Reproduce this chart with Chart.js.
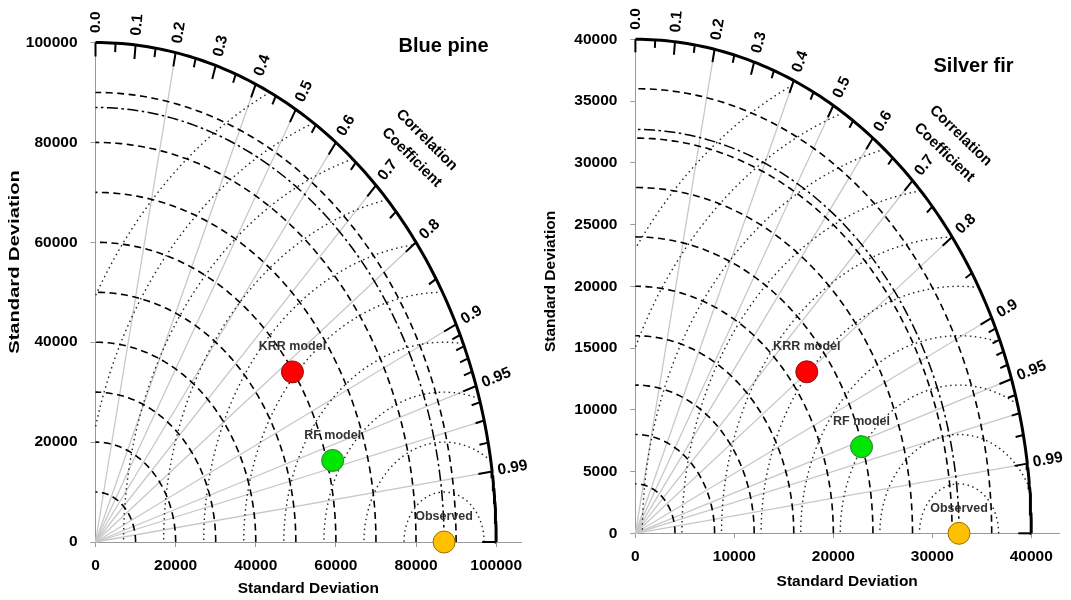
<!DOCTYPE html>
<html>
<head>
<meta charset="utf-8">
<script src="https://cdn.jsdelivr.net/npm/chart.js@4.4.0/dist/chart.umd.min.js"></script>
<style>
  body { margin: 0; background: #fff; }
  #wrap { position: relative; width: 1071px; height: 600px; }
  canvas { position: absolute; top: 0; }
</style>
</head>
<body>
<div id="wrap">
  <canvas id="pine" width="535" height="600" style="left:0px"></canvas>
  <canvas id="fir" width="536" height="600" style="left:535px"></canvas>
</div>
<script>
const FONT = '"Liberation Sans", Arial, sans-serif';
Chart.defaults.font.family = FONT;

// models, in the order of the points
const modelNames = ["KRR model", "RF model", "Observed"];
const modelColors = ["#ff0000", "#00e600", "#ffc000"];
const modelBorders = ["#8a1010", "#2d7a2d", "#9a7000"];

// Blue pine: standard deviation and correlation of each model
const pineStd = [59800, 61400, 87000];
const pineCorr = [0.822, 0.964, 1.0];
const pineXTicks = [0, 20000, 40000, 60000, 80000, 100000];
const pineYTicks = [0, 20000, 40000, 60000, 80000, 100000];
const pineStdArcs = [10000, 20000, 30000, 40000, 50000, 60000, 70000, 80000, 90000];
const pineRmsArcs = [10000, 20000, 30000, 40000, 50000, 60000, 70000, 80000, 90000, 100000];

// Silver fir
const firStd = [21700, 23900, 32700];
const firCorr = [0.798, 0.956, 1.0];
const firXTicks = [0, 10000, 20000, 30000, 40000];
const firYTicks = [0, 5000, 10000, 15000, 20000, 25000, 30000, 35000, 40000];
const firStdArcs = [4000, 8000, 12000, 16000, 20000, 24000, 28000, 32000, 36000];
const firRmsArcs = [4000, 8000, 12000, 16000, 20000, 24000, 28000, 32000, 36000, 40000];

// correlation axis
const corrMajor = [0.0, 0.1, 0.2, 0.3, 0.4, 0.5, 0.6, 0.7, 0.8, 0.9, 0.95, 0.99, 1.0];
const corrLabels = ["0.0", "0.1", "0.2", "0.3", "0.4", "0.5", "0.6", "0.7", "0.8", "0.9", "0.95", "0.99", ""];
const corrMinor = [0.05, 0.15, 0.25, 0.35, 0.45, 0.55, 0.65, 0.75, 0.85,
  0.91, 0.92, 0.93, 0.94, 0.96, 0.97, 0.98];
const corrRays = [0.2, 0.4, 0.5, 0.6, 0.7, 0.8, 0.9, 0.95, 0.97, 0.99];

function arc(cx, r, a0, a1) {
  let pts = [];
  let n = 120;
  for (let i = 0; i <= n; i++) {
    let a = a0 + (a1 - a0) * i / n;
    pts.push({ x: cx + r * Math.cos(a), y: r * Math.sin(a) });
  }
  return pts;
}

function lineSet(data, color, width, dash) {
  return {
    data: data, showLine: true, borderColor: color, borderWidth: width,
    borderDash: dash, pointRadius: 0, pointHoverRadius: 0, fill: false,
    tension: 0, clip: false, order: 10
  };
}

const taylorPlugin = {
  id: "taylor",
  afterDatasetsDraw(chart, args, o) {
    const ctx = chart.ctx;
    const x = chart.scales.x, y = chart.scales.y;
    const ox = x.getPixelForValue(0), oy = y.getPixelForValue(0);
    const P = (r, c) => [x.getPixelForValue(r * c), y.getPixelForValue(r * Math.sqrt(Math.max(0, 1 - c * c)))];
    ctx.save();
    ctx.strokeStyle = "#000";
    ctx.lineWidth = 2;
    const tick = (c, len) => {
      const [px, py] = P(o.rMax, c);
      const dx = ox - px, dy = oy - py, d = Math.hypot(dx, dy);
      ctx.beginPath();
      ctx.moveTo(px, py);
      ctx.lineTo(px + dx / d * len, py + dy / d * len);
      ctx.stroke();
    };
    corrMajor.forEach(c => tick(c, o.major));
    corrMinor.forEach(c => tick(c, o.minor));

    ctx.fillStyle = "#000";
    ctx.font = "bold 15.5px " + FONT;
    ctx.textAlign = "left";
    ctx.textBaseline = "middle";
    corrMajor.forEach((c, i) => {
      if (!corrLabels[i]) return;
      const [px, py] = P(o.rMax, c);
      const d = Math.hypot(px - ox, py - oy);
      const ux = (px - ox) / d, uy = (py - oy) / d;
      const gap = 5 + 4.5 * Math.abs(uy);
      ctx.save();
      ctx.translate(px + ux * gap, py + uy * gap);
      ctx.rotate(Math.atan2(uy, ux));
      ctx.fillText(corrLabels[i], 0, 0);
      ctx.restore();
    });

    // "Correlation Coefficient"
    ctx.textAlign = "center";
    ctx.font = "bold 15px " + FONT;
    o.corrText.forEach(t => {
      ctx.save();
      ctx.translate(t.x, t.y);
      ctx.rotate(o.corrAngle * Math.PI / 180);
      ctx.fillText(t.t, 0, 0);
      ctx.restore();
    });

    // panel title
    ctx.font = "bold 20px " + FONT;
    ctx.fillText(o.title.t, o.title.x, o.title.y);

    // y axis title
    ctx.font = "bold 15.5px " + FONT;
    ctx.save();
    ctx.translate(o.yTitle.x, o.yTitle.y);
    ctx.rotate(-Math.PI / 2);
    ctx.scale(o.yTitle.stretch, 1);
    ctx.fillText("Standard Deviation", 0, 0);
    ctx.restore();

    // point labels
    ctx.font = "bold 12.5px " + FONT;
    ctx.fillStyle = "#333";
    const meta = chart.getDatasetMeta(0);
    meta.data.forEach((el, i) => {
      ctx.fillText(modelNames[i], el.x, el.y - 25);
    });
    ctx.restore();
  }
};

function makeChart(id, std, corr, xTicks, yTicks, stdArcs, rmsArcs, rMax, xMax, L) {
  const obs = std[2];
  let datasets = [];
  datasets.push({
    data: std.map((s, i) => ({ x: s * corr[i], y: s * Math.sqrt(1 - corr[i] * corr[i]) })),
    showLine: false, pointRadius: 11, pointHoverRadius: 11,
    backgroundColor: modelColors, borderColor: modelBorders, borderWidth: 1,
    clip: false, order: 0
  });
  // outer arc
  datasets.push(lineSet(arc(0, rMax, 0, Math.PI / 2), "#000", 3, []));
  // observed std arc
  datasets.push(lineSet(arc(0, obs, 0, Math.PI / 2), "#000", 1.5, [11, 3.5, 2.5, 3.5]));
  // std arcs
  stdArcs.forEach(r => datasets.push(lineSet(arc(0, r, 0, Math.PI / 2), "#000", 1.6, [7, 4.5])));
  // rms arcs around observed
  rmsArcs.forEach(r => {
    let c0 = (rMax * rMax - obs * obs - r * r) / (2 * obs * r);
    let c1 = -obs / r;
    let a0 = Math.acos(Math.min(1, Math.max(-1, c0)));
    let a1 = Math.acos(Math.min(1, Math.max(-1, c1)));
    if (a1 > a0) datasets.push(lineSet(arc(obs, r, a0, a1), "#222", 1.4, [1.5, 3.5]));
  });
  // correlation rays
  corrRays.forEach(c => datasets.push(lineSet([{ x: 0, y: 0 }, { x: rMax * c, y: rMax * Math.sqrt(1 - c * c) }], "#c8c8c8", 1.3, [])));

  const tickFont = { family: FONT, size: 15.5, weight: "bold" };
  return new Chart(document.getElementById(id), {
    type: "scatter",
    data: { datasets: datasets },
    plugins: [taylorPlugin],
    options: {
      responsive: false,
      animation: false,
      events: [],
      layout: { padding: { left: 0, right: L.padRight, top: L.padTop, bottom: 0 } },
      plugins: {
        legend: { display: false },
        tooltip: { enabled: false },
        taylor: L
      },
      scales: {
        x: {
          type: "linear", min: 0, max: xMax,
          afterBuildTicks: s => { s.ticks = xTicks.map(v => ({ value: v })); },
          afterFit: s => { s.height = L.xHeight; },
          grid: { drawOnChartArea: false, drawTicks: true, tickLength: 5, color: "#999" },
          border: { color: "#999", width: 1 },
          ticks: { color: "#000", font: tickFont, padding: 9, maxRotation: 0, autoSkip: false, callback: v => String(v) },
          title: { display: true, text: "Standard Deviation", color: "#000", font: tickFont, padding: { top: 0, bottom: L.xTitlePad } }
        },
        y: {
          type: "linear", min: 0, max: rMax,
          afterBuildTicks: s => { s.ticks = yTicks.map(v => ({ value: v })); },
          afterFit: s => { s.width = L.yWidth; },
          grid: { drawOnChartArea: false, drawTicks: true, tickLength: 5, color: "#999" },
          border: { color: "#999", width: 1 },
          ticks: { color: "#000", font: tickFont, padding: 13, autoSkip: false, callback: v => String(v) }
        }
      }
    }
  });
}

makeChart("pine", pineStd, pineCorr, pineXTicks, pineYTicks, pineStdArcs, pineRmsArcs, 100000, 106200, {
  rMax: 100000, padTop: 42.5, padRight: 14, yWidth: 95.5, xHeight: 58, xTitlePad: 2,
  major: 14, minor: 9,
  title: { t: "Blue pine", x: 443.5, y: 46 },
  corrAngle: 45,
  corrText: [{ t: "Correlation", x: 426.7, y: 140 }, { t: "Coefficient", x: 411.7, y: 157.5 }],
  yTitle: { x: 14.5, y: 262, stretch: 1.3 }
});

makeChart("fir", firStd, firCorr, firXTicks, firYTicks, firStdArcs, firRmsArcs, 40000, 42800, {
  rMax: 40000, padTop: 39.3, padRight: 11.4, yWidth: 100.4, xHeight: 66.7, xTitlePad: 9,
  major: 13, minor: 8,
  title: { t: "Silver fir", x: 438.5, y: 66.5 },
  corrAngle: 44,
  corrText: [{ t: "Correlation", x: 425.7, y: 135.8 }, { t: "Coefficient", x: 409.3, y: 152.5 }],
  yTitle: { x: 15.5, y: 281.5, stretch: 1.0 }
});
</script>
</body>
</html>
